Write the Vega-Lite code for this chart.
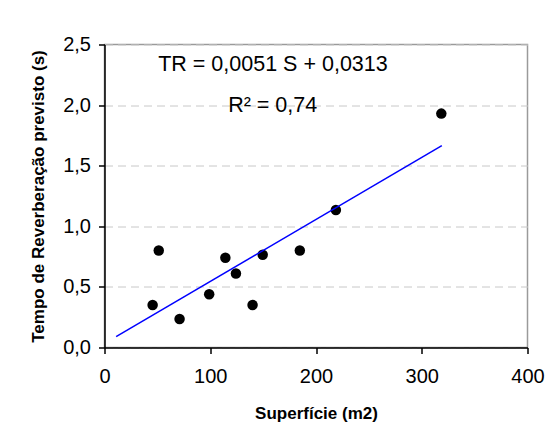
{
  "$schema": "https://vega.github.io/schema/vega-lite/v6.json",
  "width": 423,
  "height": 303,
  "autosize": "none",
  "padding": {"left": 104.5, "top": 44.5, "right": 25.5, "bottom": 94.5},
  "background": "white",
  "config": {
    "view": {"stroke": "#9a9a9a", "strokeWidth": 1.5},
    "font": "Liberation Sans"
  },
  "layer": [
    {
      "data": {"values": [
        {"S": 45.5, "TR": 0.35},
        {"S": 51.3, "TR": 0.80},
        {"S": 71.0, "TR": 0.235},
        {"S": 99.0, "TR": 0.44},
        {"S": 114.3, "TR": 0.74},
        {"S": 124.3, "TR": 0.61},
        {"S": 140.0, "TR": 0.35},
        {"S": 149.6, "TR": 0.765},
        {"S": 184.7, "TR": 0.80},
        {"S": 218.8, "TR": 1.135},
        {"S": 318.5, "TR": 1.93}
      ]},
      "mark": {"type": "point", "filled": true, "color": "black", "size": 110, "opacity": 1},
      "encoding": {
        "x": {
          "field": "S", "type": "quantitative",
          "scale": {"domain": [0, 400], "nice": false},
          "axis": {
            "title": "Superfície (m2)",
            "values": [0, 100, 200, 300, 400],
            "grid": false,
            "domainColor": "black", "domainWidth": 1.5,
            "tickColor": "black", "tickSize": 6, "tickWidth": 1.5,
            "labelFontSize": 20, "labelPadding": 13, "labelColor": "black",
            "labelFlush": false,
            "titleFontSize": 17, "titleFontWeight": "bold", "titleColor": "black",
            "titlePadding": 19
          }
        },
        "y": {
          "field": "TR", "type": "quantitative",
          "scale": {"domain": [0, 2.5], "nice": false},
          "axis": {
            "title": "Tempo de Reverberação previsto (s)",
            "values": [0, 0.5, 1, 1.5, 2, 2.5],
            "labelExpr": "replace(format(datum.value, '.1f'), '.', ',')",
            "grid": true, "gridDash": [8, 5], "gridColor": "#c8c8c8", "gridWidth": 1,
            "domainColor": "black", "domainWidth": 1.5,
            "tickColor": "black", "tickSize": 6, "tickWidth": 1.5,
            "labelFontSize": 20, "labelPadding": 8, "labelColor": "black",
            "labelFlush": false,
            "titleFontSize": 17, "titleFontWeight": "bold", "titleColor": "black",
            "titlePadding": 15
          }
        }
      }
    },
    {
      "data": {"values": [
        {"S": 11, "TR": 0.09},
        {"S": 319, "TR": 1.665}
      ]},
      "mark": {"type": "line", "color": "#0000ff", "strokeWidth": 1.5},
      "encoding": {
        "x": {"field": "S", "type": "quantitative"},
        "y": {"field": "TR", "type": "quantitative"}
      }
    },
    {
      "data": {"values": [
        {"S": 159.3, "TR": 2.28, "label": "TR = 0,0051 S + 0,0313"},
        {"S": 159, "TR": 1.944, "label": "R² = 0,74"}
      ]},
      "mark": {"type": "text", "fontSize": 21.5, "color": "black", "baseline": "alphabetic", "align": "center"},
      "encoding": {
        "x": {"field": "S", "type": "quantitative"},
        "y": {"field": "TR", "type": "quantitative"},
        "text": {"field": "label"}
      }
    }
  ]
}
